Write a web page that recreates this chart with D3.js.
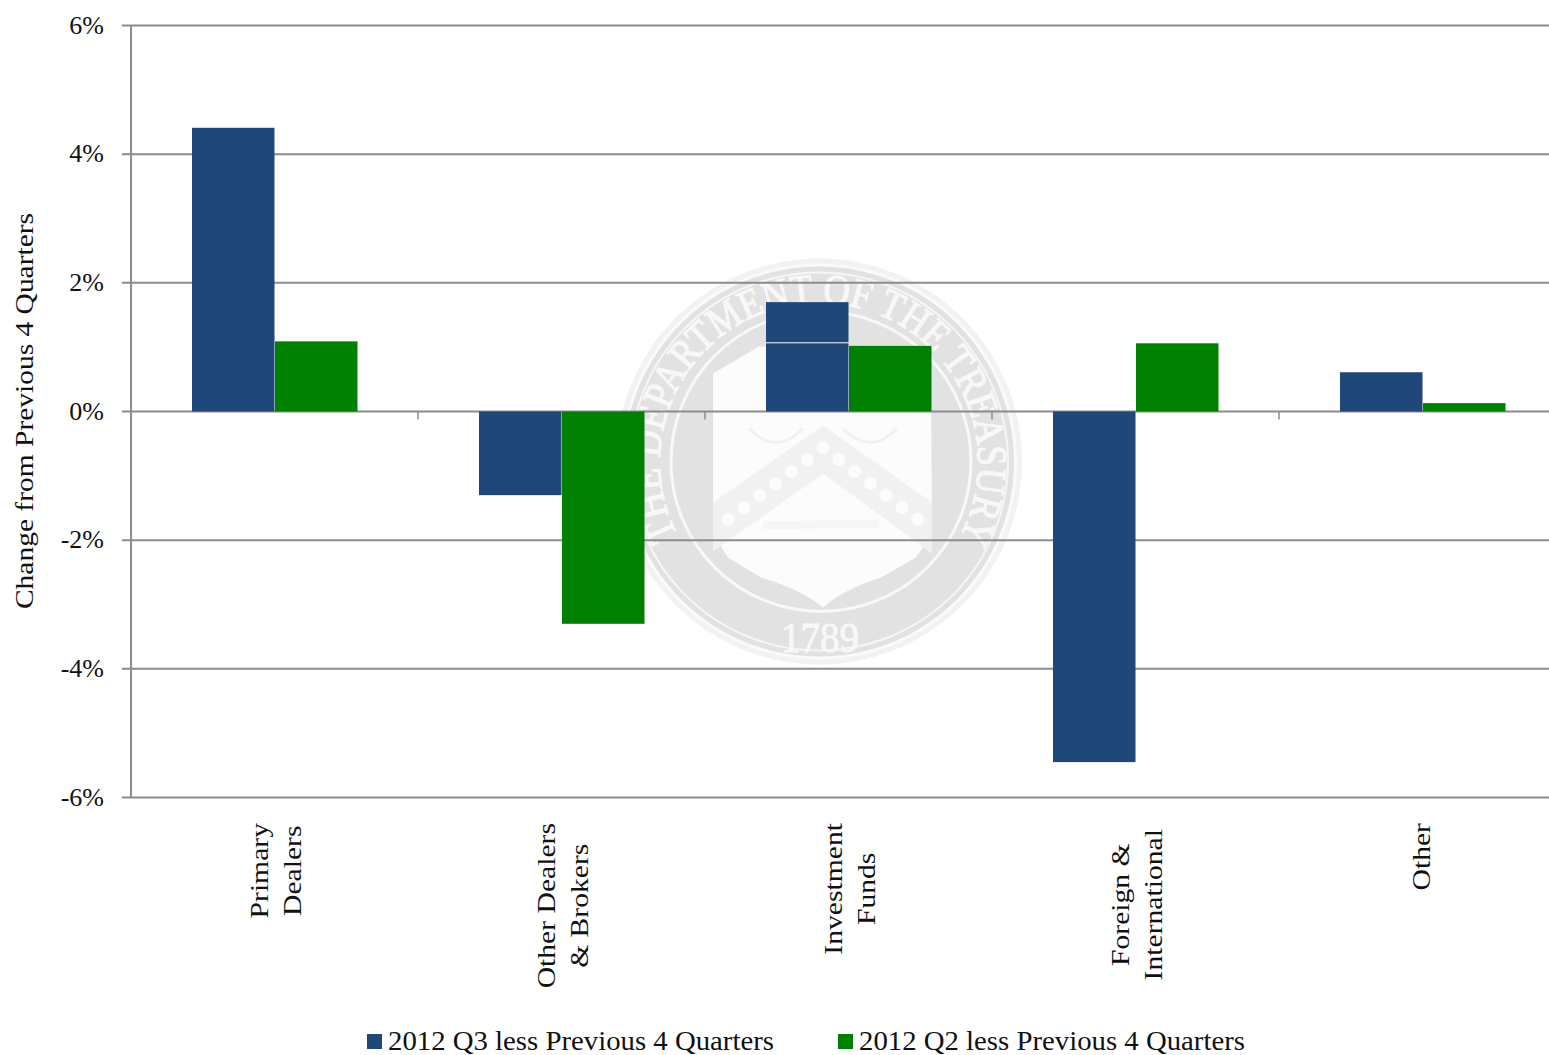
<!DOCTYPE html>
<html><head><meta charset="utf-8">
<style>html,body{margin:0;padding:0;background:#fff;overflow:hidden}svg{display:block}text{font-family:"Liberation Serif",serif;fill:#111}</style>
<script src="https://cdn.jsdelivr.net/npm/d3@7"></script></head>
<body><svg id="c" width="1549" height="1055"></svg>
<script>
const categories=[["Primary","Dealers"],["Other Dealers","& Brokers"],["Investment","Funds"],["Foreign &","International"],["Other"]];
const q3Values=[4.41,-1.3,1.7,-5.45,0.61];
const q2Values=[1.09,-3.3,1.02,1.06,0.13];
const seriesNames=["2012 Q3 less Previous 4 Quarters","2012 Q2 less Previous 4 Quarters"];
const seriesColors=["#1f4879","#008000"];
const yTicks=[-6,-4,-2,0,2,4,6];
const sealTop="THE DEPARTMENT OF THE TREASURY";
const sealYear="1789";
const chevronStars=[-6,-5,-4,-3,-2,-1,0,1,2,3,4,5,6];

const svg=d3.select("#c");
const y=d3.scaleLinear().domain([-6,6]).range([797.5,25.5]);
const x0=d3.scaleBand().domain(d3.range(categories.length)).range([131,1566.5]);
const x1=d3.scaleBand().domain([0,1]).range([0,165]);
const grey="#8c8c8c", FX=1.14;

// seal watermark
const seal=svg.append("g").attr("transform","translate(819,461.5)");
seal.append("circle").attr("r",203).attr("fill","#f2f2f2");
seal.append("circle").attr("r",198).attr("fill","#fafafa");
seal.append("circle").attr("r",195).attr("fill","#e2e2e2");
seal.append("circle").attr("r",189).attr("fill","none").attr("stroke","#f6f6f6").attr("stroke-width",2);
seal.append("circle").attr("cx",2).attr("r",150).attr("fill","none").attr("stroke","#f8f8f8").attr("stroke-width",3);
svg.append("defs").append("path").attr("id","arcT").attr("d","M -141 74 A 159 159 0 1 1 141 74");
seal.append("text").append("textPath").attr("href","#arcT").attr("startOffset","0")
  .attr("textLength",655).attr("lengthAdjust","spacingAndGlyphs")
  .text(sealTop).style("fill","#f8f8f8").style("stroke","#f8f8f8").style("stroke-width","1.2px").style("font-size","42px");
seal.append("text").attr("x",1).attr("text-anchor","middle").attr("y",190).attr("textLength",78).attr("lengthAdjust","spacingAndGlyphs")
  .text(sealYear).style("fill","#f8f8f8").style("stroke","#f8f8f8").style("stroke-width","1px").style("font-size","42px");
seal.append("path").attr("d","M-106,-88 L-60,-115 L64,-115 L112,-88 L113,72 L97,96 L62,116 Q24,128 4,146 Q-18,128 -58,116 L-91,96 L-106,72 Z").attr("fill","#fcfcfc");
seal.append("path").attr("d","M-106,41 L4,-36 L113,41 L113,92 L4,12 L-86,76 L-106,90 Z").attr("fill","#f1f1f1");
seal.selectAll("circle.star").data(chevronStars).join("circle").attr("class","star")
  .attr("r",6.5).attr("cx",d=>4+d*15.8).attr("cy",d=>-14+Math.abs(d)*12).attr("fill","#fcfcfc");
[-1,1].forEach(s=>seal.append("path").attr("d",`M${4+s*47-27},-33 Q${4+s*47},-5 ${4+s*47+27},-33`).attr("fill","none").attr("stroke","#f1f1f1").attr("stroke-width",3));
seal.append("path").attr("d","M-56,60 L60,58 L60,66 L-56,68 Z").attr("fill","#f6f6f6");

// grid
svg.append("g").selectAll("line").data(yTicks).join("line")
 .attr("x1",122).attr("x2",1549).attr("y1",d=>y(d)).attr("y2",d=>y(d))
 .attr("stroke",grey).attr("stroke-width",2);
svg.append("line").attr("x1",131).attr("x2",131).attr("y1",y(6)).attr("y2",y(-6)).attr("stroke",grey).attr("stroke-width",2);
svg.append("g").selectAll("line").data(d3.range(1,5)).join("line")
 .attr("x1",d=>Math.round(131+d*x0.step())).attr("x2",d=>Math.round(131+d*x0.step())).attr("y1",y(0)).attr("y2",y(0)+8)
 .attr("stroke",grey).attr("stroke-width",1.5);

// bars
[q3Values,q2Values].forEach((vals,s)=>{
 svg.append("g").selectAll("rect").data(vals).join("rect")
  .attr("x",(d,i)=>Math.round(x0(i)+x0.bandwidth()/2-82.5+x1(s)))
  .attr("width",x1.bandwidth())
  .attr("y",d=>Math.min(y(d),y(0)))
  .attr("height",d=>Math.abs(y(d)-y(0)))
  .attr("fill",seriesColors[s]);
});
// white hairline inside the Investment Funds bar
svg.append("line").attr("x1",Math.round(x0(2)+x0.bandwidth()/2-82.5)).attr("x2",Math.round(x0(2)+x0.bandwidth()/2))
 .attr("y1",y(q2Values[3])-0.5).attr("y2",y(q2Values[3])-0.5).attr("stroke","#fff").attr("stroke-width",1);

// y labels
svg.append("g").selectAll("text").data(yTicks).join("text")
 .attr("text-anchor","end").attr("x",104).attr("y",d=>y(d)+8)
 .style("font-size","26px").text(d=>d+"%");
svg.append("text").attr("transform","translate(33,411) rotate(-90) scale(1.134,1)").attr("text-anchor","middle")
 .style("font-size","26px").text("Change from Previous 4 Quarters");

// category labels
categories.forEach((lines,i)=>{
 const cx=x0(i)+x0.bandwidth()/2;
 const offs=lines.length===1?[7]:[-7,26];
 const g=svg.append("g");
 const ts=lines.map(l=>g.append("text").attr("text-anchor","middle").style("font-size","26px").text(l));
 const w=d3.max(ts,t=>t.node().getComputedTextLength())*FX;
 const top=i===3?829:823;
 ts.forEach((t,j)=>t.attr("transform",`translate(${cx+offs[j]},${top+w/2}) rotate(-90) scale(${FX},1)`));
});

// legend
[[367,388],[838,859]].forEach((p,s)=>{
 svg.append("rect").attr("x",p[0]).attr("y",1034).attr("width",15).attr("height",15).attr("fill",seriesColors[s]);
 svg.append("text").attr("x",p[1]).attr("y",1050).style("font-size","28px").attr("textLength",386).attr("lengthAdjust","spacingAndGlyphs").text(seriesNames[s]);
});
</script></body></html>
